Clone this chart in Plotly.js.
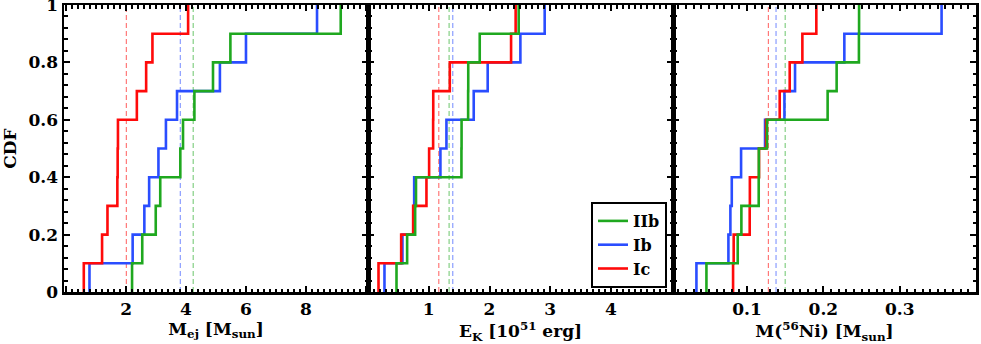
<!DOCTYPE html>
<html>
<head>
<meta charset="utf-8">
<script src="https://cdn.plot.ly/plotly-3.0.1.min.js"></script>
<style>
  html, body { margin: 0; padding: 0; background: #fff; }
  #plot { width: 981px; height: 344px; }
</style>
</head>
<body>
<div id="plot"></div>
<script>
// Supernova types, drawn in this order (green on top), legend listed IIb, Ib, Ic
var types = ['Ib', 'Ic', 'IIb'];
var legendOrder = { IIb: 1, Ib: 2, Ic: 3 };

var mejIIb = [2.20, 2.54, 2.99, 3.14, 3.81, 3.90, 4.28, 4.90, 5.48, 9.16];
var mejIb  = [0.78, 2.22, 2.61, 2.77, 3.08, 3.33, 3.70, 5.13, 6.00, 8.37];
var mejIc  = [0.59, 1.20, 1.38, 1.71, 1.72, 1.73, 2.36, 2.67, 2.88, 4.07];

// Kinetic energy [10^51 erg], panel 2
var ekIIb = [0.469, 0.644, 0.776, 0.790, 1.538, 1.540, 1.648, 1.650, 1.839, 2.480];
var ekIb  = [0.271, 0.567, 0.754, 0.760, 1.192, 1.291, 1.740, 1.970, 2.508, 2.908];
var ekIc  = [0.173, 0.546, 0.743, 0.962, 1.006, 1.072, 1.074, 1.346, 2.355, 2.430];

// 56Ni mass [M_sun], panel 3
var niIIb = [0.0468, 0.0878, 0.0926, 0.1153, 0.1155, 0.1262, 0.2056, 0.2174, 0.2466, 0.2468];
var niIb  = [0.0337, 0.0756, 0.0782, 0.0800, 0.0922, 0.1236, 0.1490, 0.1629, 0.2275, 0.3549];
var niIc  = [0.0817, 0.0825, 0.1035, 0.1037, 0.1157, 0.1250, 0.1428, 0.1559, 0.1725, 0.1908];

// Dashed reference lines (sample averages) per panel
var mejMean = { IIb: 4.24, Ib: 3.81, Ic: 2.01 };
var ekMean  = { IIb: 1.335, Ib: 1.395, Ic: 1.165 };
var niMean  = { IIb: 0.150, Ib: 0.138, Ic: 0.128 };

// Axis titles, tick steps and the edge labels that stay blank
var xTitles = ['M<sub>ej</sub> [M<sub>sun</sub>]', 'E<sub>K</sub> [10<sup>51</sup> erg]', 'M(<sup>56</sup>Ni) [M<sub>sun</sub>]'];
var xMajorStep = [2, 1, 0.1];
var xMinorStep = [0.2, 0.1, 0.01];
var xHiddenLabels = [{ '0': '', '10': '' }, { '0': '', '5': '' }, { '0': '', '0.4': '' }];
var yMajorStep = 0.2;
var yMinorStep = 0.04;

var colors = { IIb: '#1fa81f', Ib: '#2a4dff', Ic: '#ff0a0a' };
var lightColors = { IIb: 'rgba(31,168,31,0.55)', Ib: 'rgba(42,77,255,0.55)', Ic: 'rgba(255,10,10,0.55)' };

var panels = [
    { data: { IIb: mejIIb, Ib: mejIb, Ic: mejIc }, mean: mejMean },
    { data: { IIb: ekIIb, Ib: ekIb, Ic: ekIc }, mean: ekMean },
    { data: { IIb: niIIb, Ib: niIb, Ic: niIc }, mean: niMean }
];

// Empirical CDF as a step line: start at 0, rise 1/n at every sorted value
function cdfTrace(vals) {
    var s = vals.slice().sort(function (a, b) { return a - b; });
    var x = [s[0]], y = [0];
    for (var i = 0; i < s.length; i++) {
        x.push(s[i]);
        y.push((i + 1) / s.length);
    }
    return { x: x, y: y };
}

var traces = [];
panels.forEach(function (p, k) {
    var xa = k === 0 ? 'x' : 'x' + (k + 1);
    var ya = k === 0 ? 'y' : 'y' + (k + 1);
    // dashed lines behind the steps
    types.forEach(function (t) {
        traces.push({
            x: [p.mean[t], p.mean[t]], y: [0, 1],
            xaxis: xa, yaxis: ya, mode: 'lines', showlegend: false, hoverinfo: 'skip',
            line: { color: lightColors[t], width: 1.2, dash: '5px,3px' }
        });
    });
    types.forEach(function (t) {
        var c = cdfTrace(p.data[t]);
        traces.push({
            x: c.x, y: c.y, xaxis: xa, yaxis: ya,
            type: 'scatter', mode: 'lines', name: t,
            line: { color: colors[t], width: 2.6, shape: 'hv' },
            showlegend: k === 0, legendrank: legendOrder[t]
        });
    });
});

var font = { family: 'DejaVu Serif', size: 17, color: 'black', weight: 'bold' };

function xAxis(k, domain, range) {
    return {
        domain: domain, range: range, anchor: k === 0 ? 'y' : 'y' + (k + 1),
        tickmode: 'linear', tick0: 0, dtick: xMajorStep[k], labelalias: xHiddenLabels[k],
        ticks: 'inside', ticklen: 6, tickwidth: 2, tickcolor: 'black',
        minor: { tickmode: 'linear', tick0: 0, dtick: xMinorStep[k], ticks: 'inside', ticklen: 3.5, tickwidth: 2, tickcolor: 'black', showgrid: false },
        showline: true, linewidth: 2.5, linecolor: 'black', mirror: 'allticks',
        showgrid: false, zeroline: false, tickfont: font, ticklabeloverflow: 'allow',
        title: { text: xTitles[k], font: font, standoff: 0 }
    };
}

function yAxis(k) {
    return {
        domain: [0, 1], range: [0, 1], anchor: k === 0 ? 'x' : 'x' + (k + 1),
        tickmode: 'linear', tick0: 0, dtick: yMajorStep,
        ticks: 'inside', ticklen: 6, tickwidth: 2, tickcolor: 'black',
        minor: { tickmode: 'linear', tick0: 0, dtick: yMinorStep, ticks: 'inside', ticklen: 3.5, tickwidth: 2, tickcolor: 'black', showgrid: false },
        showline: true, linewidth: 2.5, linecolor: 'black', mirror: 'allticks',
        showgrid: false, zeroline: false, tickfont: font, ticklabeloverflow: 'allow',
        showticklabels: k === 0,
        title: k === 0 ? { text: 'CDF', font: font, standoff: 8 } : undefined
    };
}

var d1 = 304 / 912, d2 = 609 / 912;
var layout = {
    width: 981, height: 344,
    margin: { l: 64, r: 5, t: 5, b: 52 },
    paper_bgcolor: 'white', plot_bgcolor: 'white',
    font: font,
    showlegend: true,
    legend: {
        x: 603 / 912, xanchor: 'right', y: 4 / 287, yanchor: 'bottom',
        bgcolor: 'white', bordercolor: 'black', borderwidth: 2,
        font: { family: 'DejaVu Serif', size: 16, color: 'black', weight: 'bold' },
        tracegroupgap: 0, itemwidth: 30
    },
    xaxis: xAxis(0, [0, d1], [-0.07, 10.07]),
    xaxis2: xAxis(1, [d1, d2], [0, 5.02]),
    xaxis3: xAxis(2, [d2, 1], [0.003, 0.4]),
    yaxis: yAxis(0),
    yaxis2: yAxis(1),
    yaxis3: yAxis(2)
};

Plotly.newPlot('plot', traces, layout, { displayModeBar: false, staticPlot: true });
</script>
</body>
</html>
